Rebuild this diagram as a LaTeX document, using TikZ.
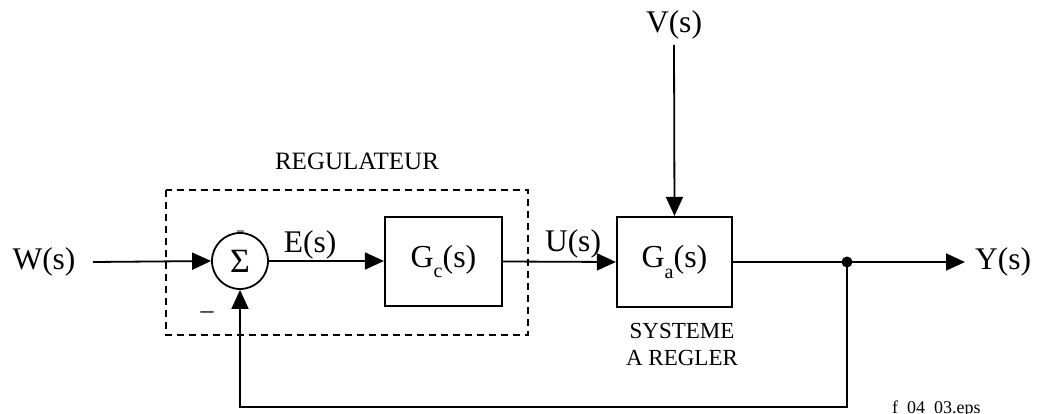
\documentclass[tikz,border=0pt]{standalone}
\usepackage{fontspec}
\setmainfont{Liberation Serif}
\usetikzlibrary{arrows.meta}
\newcommand{\lowsub}[1]{\raisebox{-0.32em}{\fontsize{20}{20}\selectfont #1}}
\tikzset{
  sig/.style={line width=1.8pt, -{Triangle[length=19pt,width=17pt]}},
  wire/.style={line width=1.8pt},
  blk/.style={draw, line width=2.2pt, minimum width=117pt, minimum height=89pt, inner sep=0pt,
              font=\fontsize{32}{32}\selectfont},
  sumc/.style={circle, draw, line width=1.8pt, minimum size=56pt, inner sep=0pt,
               font=\fontsize{34}{34}\selectfont},
  lbl/.style={inner sep=0pt, font=\fontsize{31.5}{31.5}\selectfont},
  note/.style={inner sep=0pt, align=center, font=\fontsize{23}{27}\selectfont},
  tag/.style={inner sep=0pt, font=\fontsize{18}{18}\selectfont},
  group/.style={draw, line width=2.4pt, dash pattern=on 7pt off 5pt},
}
\begin{document}
\begin{tikzpicture}[x=1pt, y=-1pt]
\useasboundingbox[fill=white] (0,0) rectangle (1038,414);

% controller group
\draw[group] (166,190) rectangle (528,335);
\node[note, font=\fontsize{25}{25}\selectfont] (reg) at (357,161) {REGULATEUR};

% blocks
\node[sumc] (sum) at (240,261) {Σ};
\node[blk] (gc) at (443.5,261.5) {G\lowsub{c}(s)};
\node[blk, minimum width=115pt, minimum height=90pt] (ga) at (674.5,262) {G\lowsub{a}(s)};
\node[note, anchor=north] (sys) at (682,323) {SYSTEME\\A REGLER};

% signal labels
\node[lbl] (w) at (44,262) {W(s)};
\node[lbl] (v) at (674,25) {V(s)};
\node[lbl] (e) at (310,245) {E(s)};
\node[lbl] (u) at (573,244) {U(s)};
\node[lbl, anchor=west] (y) at (975,262) {Y(s)};
\node[lbl, font=\fontsize{26}{26}\selectfont] (minus) at (207,315) {–};
\draw[line width=1.6pt, black!45] (236.5,231) -- (243.5,231);

% signal path
\coordinate (win) at (93,262);
\coordinate (vin) at (674,45);
\coordinate (j) at (847,262);
\coordinate (yout) at (965,262);
\coordinate (fb) at (240,407);

\draw[sig] (win) -- (sum.west);
\draw[sig] (sum.east) -- (gc.west |- sum.east);
\draw[sig] (gc.east) -- (ga.west);
\draw[sig] (vin) -- (ga.north);
\draw[wire] (ga.east) -- (j);
\draw[sig] (j) -- (yout);
\draw[sig] (j) |- (fb) -- (sum.south);
\fill (j) circle (5.5pt);

\node[tag, anchor=base west] (file) at (892,413.5) {f\_04\_03.eps};
\end{tikzpicture}
\end{document}
